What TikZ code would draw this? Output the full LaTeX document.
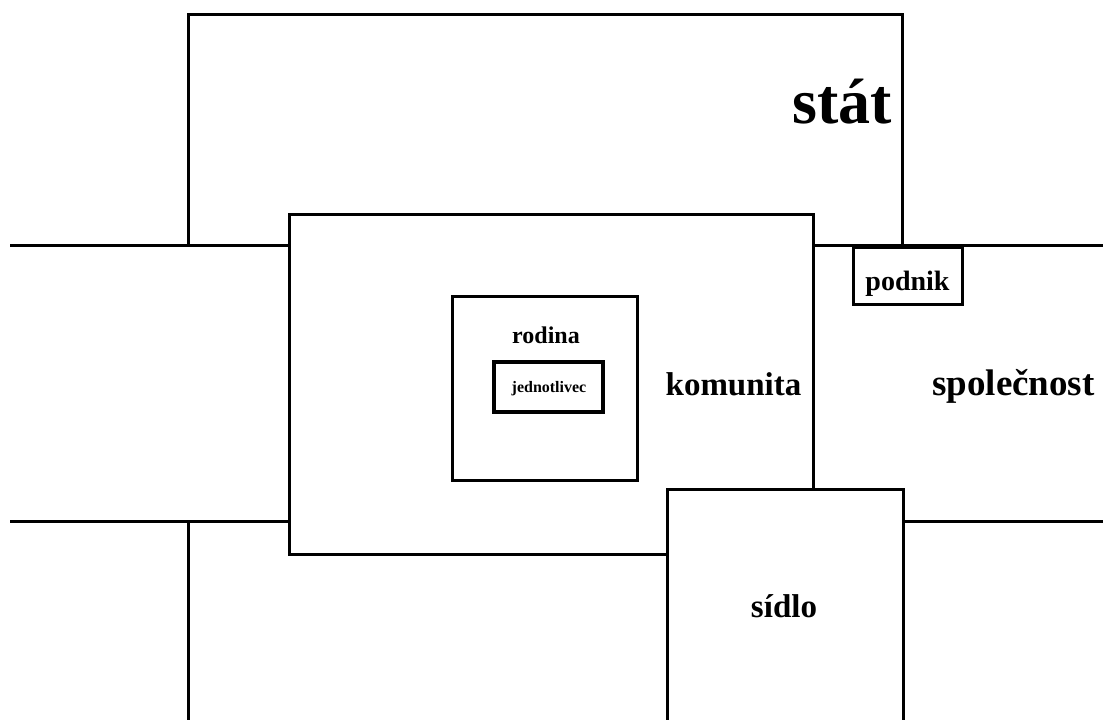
\documentclass[tikz,border=0pt]{standalone}
\usepackage{fontspec}
\setmainfont{Liberation Serif}
\tikzset{
  box/.style={draw, line width=3pt, fill=white, rectangle, inner sep=0pt, outer sep=0pt},
  thickbox/.style={box, line width=3.8pt},
  conn/.style={line width=3pt},
  lbl/.style={font=\bfseries, anchor=base, inner sep=0pt},
}
\begin{document}
\begin{tikzpicture}[x=1pt,y=-1pt]
\clip (0,0) rectangle (1103,720);
\fill[white] (0,0) rectangle (1103,720);
% state
\node[box, fill=none, minimum width=714pt, minimum height=231pt] (stat) at (545,129.5) {};
% komunita
\node[box, minimum width=524pt, minimum height=340pt] (kom) at (551,384) {};
% connectors
\coordinate (L1) at (10,245);
\coordinate (R1) at (1103,245);
\coordinate (L2) at (10,521);
\coordinate (R2) at (1103,521);
\coordinate (B1) at (188,720);
\draw[conn] (L1) -- (kom.west |- L1);
\draw[conn] (kom.east |- R1) -- (R1);
\draw[conn] (L2) -- (kom.west |- L2);
\draw[conn] (B1 |- L2) -- (B1);
% sidlo
\node[box, minimum width=236pt, minimum height=260pt] (sid) at (785,619) {};
\draw[conn] (sid.east |- R2) -- (R2);
% podnik
\node[box, minimum width=109pt, minimum height=57pt] (pod) at (907.5,275.5) {};
% rodina
\node[thickbox, minimum width=185pt, minimum height=184pt] (rod) at (545,388.5) {};
\node[thickbox, minimum width=109pt, minimum height=50pt] (jed) at (548.5,387) {};
% labels
\node[lbl, font=\bfseries\fontsize{64}{64}\selectfont] (tstat) at (842.5,123) {stát};
\node[lbl, font=\bfseries\fontsize{28}{28}\selectfont] (tpod) at (907.5,290) {podnik};
\node[lbl, font=\bfseries\fontsize{33}{33}\selectfont] (tkom) at (733.5,395) {komunita};
\node[lbl, font=\bfseries\fontsize{37}{37}\selectfont] (tspo) at (1013.5,395) {společnost};
\node[lbl, font=\bfseries\fontsize{24}{24}\selectfont] (trod) at (546,343) {rodina};
\node[lbl, font=\bfseries\fontsize{16}{16}\selectfont] (tjed) at (549,392) {jednotlivec};
\node[lbl, font=\bfseries\fontsize{33}{33}\selectfont] (tsid) at (784,617) {sídlo};
\end{tikzpicture}
\end{document}
